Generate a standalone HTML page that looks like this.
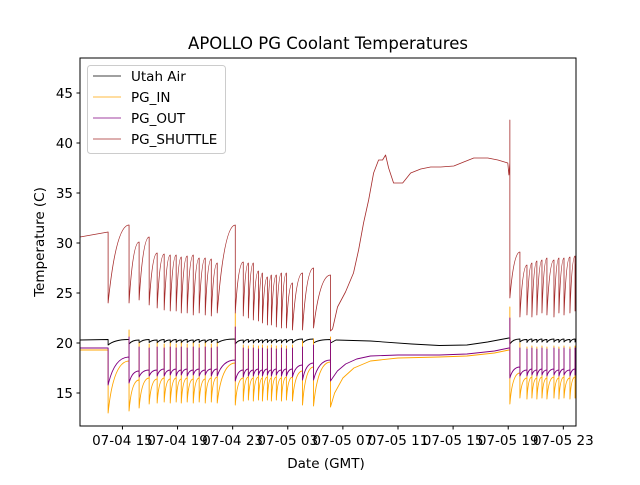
<!DOCTYPE html>
<html><head><meta charset="utf-8"><style>
body{margin:0;background:#fff}
svg text{font-family:"DejaVu Sans","Liberation Sans",sans-serif;fill:#000}
</style></head><body>
<svg id="chart" width="640" height="480" viewBox="0 0 640 480" xmlns="http://www.w3.org/2000/svg">
<rect width="640" height="480" fill="#fff"/>
<text x="328" y="49" font-size="16.5" text-anchor="middle">APOLLO PG Coolant Temperatures</text>
<g id="series"></g>
<rect x="80" y="58" width="496" height="368" fill="none" stroke="#000" stroke-width="1"/>
<g id="yticks"></g>
<g id="xticks"></g>
<text x="326" y="468" font-size="13.5" text-anchor="middle">Date (GMT)</text>
<text transform="translate(44,242) rotate(-90)" font-size="13.5" text-anchor="middle">Temperature (C)</text>
<g>
<rect x="87.5" y="65.5" width="138" height="88" rx="3" fill="#fff" fill-opacity="0.8" stroke="#ccc"/>
<g><line x1="93" y1="76" x2="121" y2="76" stroke="#000" stroke-width="0.7"/><text x="131" y="81" font-size="13.5">Utah Air</text></g>
<g><line x1="93" y1="97" x2="121" y2="97" stroke="#ffa500" stroke-width="0.7"/><text x="131" y="102" font-size="13.5">PG_IN</text></g>
<g><line x1="93" y1="118" x2="121" y2="118" stroke="#800080" stroke-width="0.7"/><text x="131" y="123" font-size="13.5">PG_OUT</text></g>
<g><line x1="93" y1="139" x2="121" y2="139" stroke="#a52a2a" stroke-width="0.7"/><text x="131" y="144" font-size="13.5">PG_SHUTTLE</text></g>
</g>
</svg>
<script>
// time in hours since 07-04 00:00 GMT
const xTickHours=[15,19,23,27,31,35,39,43,47];
const xTickLabels=["07-04 15","07-04 19","07-04 23","07-05 03","07-05 07","07-05 11","07-05 15","07-05 19","07-05 23"];
const yTickValues=[15,20,25,30,35,40,45];
const tStart=11.92, tEnd=47.92;
const cycleT=[13.96,15.48,16.21,16.94,17.52,18.03,18.47,18.90,19.27,19.70,20.14,20.57,21.01,21.45,21.88,23.19,23.77,24.14,24.50,24.87,25.16,25.52,25.81,26.17,26.54,26.90,27.34,28.07,28.87,30.10,43.12,43.85,44.36,44.72,45.08,45.45,45.81,46.32,46.68,47.05,47.48,47.85];
// PG_SHUTTLE
const shuttleStart=30.6, shuttleEnd=28.3;
const shuttlePre=[31.1,31.8,30.1,30.6,29.0,28.9,28.8,28.8,28.6,28.7,28.8,28.5,28.5,28.4,28.0,31.8,28.1,28.0,28.0,27.2,27.0,26.6,26.8,26.8,27.0,27.0,26.0,27.0,27.5,26.8,38.0,29.1,27.8,28.0,28.2,28.3,28.5,28.3,28.5,28.5,28.6,28.7];
const shuttleSpike=[31.1,31.8,30.1,30.6,29.0,28.9,28.8,28.8,28.6,28.7,28.8,28.5,28.5,28.4,28.0,31.8,28.1,28.0,28.0,27.2,27.0,26.6,26.8,26.8,27.0,27.0,26.0,27.0,27.5,26.8,42.3,29.1,27.8,28.0,28.2,28.3,28.5,28.3,28.5,28.5,28.6,28.7];
const shuttleLow=[24.0,24.0,24.3,23.8,23.5,23.3,23.2,23.2,23.0,23.0,22.8,23.0,22.8,22.7,23.0,23.0,22.7,22.5,22.3,22.2,22.0,21.8,21.8,21.6,21.5,21.5,21.3,21.3,21.5,21.2,24.5,22.6,22.8,22.6,22.8,23.0,22.8,22.6,23.0,22.8,23.0,23.2];
const shuttleBridgeT=[30.25,30.61,31.19,31.77,32.14,32.50,32.87,33.23,33.59,33.88,34.10,34.32,34.68,35.34,35.92,36.65,37.37,38.10,39.05,39.77,40.50,41.52,42.25,42.97,43.05];
const shuttleBridgeV=[21.4,23.6,25.1,27.0,29.3,32.0,34.3,37.0,38.3,38.3,38.8,37.5,36.0,36.0,37.0,37.4,37.6,37.6,37.7,38.1,38.5,38.5,38.3,38.0,36.8];
// PG_OUT
const outStart=19.5, outEnd=17.3;
const outPre=[19.5,18.6,17.2,17.3,17.3,17.4,17.3,17.4,17.3,17.4,17.3,17.4,17.3,17.4,17.4,18.3,17.3,17.4,17.3,17.4,17.3,17.4,17.3,17.4,17.3,17.4,17.4,17.8,18.0,18.3,19.5,17.6,17.3,17.4,17.3,17.4,17.3,17.4,17.3,17.4,17.3,17.4];
const outSpike=[19.5,20.6,19.6,19.5,19.6,19.5,19.6,19.5,19.6,19.5,19.6,19.5,19.6,19.5,19.6,21.6,19.5,19.4,19.5,19.4,19.5,19.4,19.5,19.4,19.5,19.4,19.5,19.6,19.8,20.3,22.5,19.5,19.4,19.5,19.4,19.5,19.4,19.5,19.4,19.5,19.4,19.5];
const outLow=[15.8,16.0,16.6,16.7,16.7,16.7,16.8,16.7,16.8,16.7,16.8,16.7,16.8,16.7,16.7,16.2,16.6,16.7,16.7,16.8,16.7,16.8,16.7,16.8,16.7,16.7,16.6,16.3,16.3,16.2,16.5,16.7,16.7,16.8,16.7,16.8,16.7,16.8,16.7,16.8,16.7,16.8];
const outBridgeT=[30.6,31.2,32.0,33.0,35.0,38.0,40.0,42.0,43.05];
const outBridgeV=[17.2,17.9,18.4,18.7,18.8,18.8,18.9,19.2,19.5];
// PG_IN
const inStart=19.3, inEnd=16.3;
const inPre=[19.3,18.2,16.3,16.5,16.4,16.5,16.4,16.5,16.4,16.5,16.4,16.5,16.4,16.5,16.6,18.0,16.5,16.6,16.5,16.6,16.5,16.6,16.5,16.6,16.5,16.6,16.6,17.2,17.6,18.1,19.3,17.0,16.5,16.6,16.5,16.6,16.5,16.6,16.5,16.6,16.5,16.6];
const inSpike=[19.3,21.3,20.0,19.9,20.0,19.9,20.0,19.9,20.0,19.9,20.0,19.9,20.0,19.9,20.0,23.0,19.8,19.7,19.8,19.7,19.8,19.7,19.8,19.7,19.8,19.7,19.8,20.2,20.4,20.6,23.6,20.0,19.6,19.7,19.6,19.7,19.6,19.7,19.6,19.7,19.6,19.7];
const inLow=[13.0,13.2,13.5,13.9,14.0,14.1,14.0,14.1,14.0,14.1,14.0,14.1,14.0,14.1,14.0,13.8,14.2,14.3,14.2,14.3,14.2,14.3,14.2,14.3,14.2,14.3,14.2,13.8,13.7,13.6,13.9,14.5,14.4,14.5,14.4,14.5,14.4,14.5,14.4,14.5,14.4,14.5];
const inBridgeT=[30.4,31.0,31.8,33.0,35.0,38.0,40.0,42.0,43.05];
const inBridgeV=[15.0,16.5,17.5,18.2,18.5,18.6,18.7,19.0,19.3];
// Utah Air
const airStart=20.3, airEnd=20.35;
const airPre=[20.35,20.35,20.3,20.35,20.3,20.35,20.3,20.35,20.3,20.35,20.3,20.35,20.3,20.35,20.35,20.4,20.3,20.35,20.3,20.35,20.3,20.35,20.3,20.35,20.3,20.35,20.35,20.4,20.4,20.35,20.5,20.4,20.35,20.4,20.35,20.4,20.35,20.4,20.35,20.4,20.35,20.4];
const airLow=[19.8,19.9,20.0,20.05,20.0,20.05,20.0,20.05,20.0,20.05,20.0,20.05,20.0,20.05,20.0,19.9,20.0,20.05,20.0,20.05,20.0,20.05,20.0,20.05,20.0,20.05,20.0,20.0,20.0,20.0,19.9,20.1,20.05,20.1,20.05,20.1,20.05,20.1,20.05,20.1,20.05,20.1];
const airBridgeT=[30.5,33.0,36.0,38.0,40.0,41.5,43.05];
const airBridgeV=[20.3,20.2,19.9,19.75,19.8,20.1,20.5];

const X0=80,X1=576,Y0=58,Y1=426;
function xs(t){return X0+(t-tStart)/(tEnd-tStart)*(X1-X0);}
function ys(v){return 343-(v-20)*10;}
const NS="http://www.w3.org/2000/svg";
const svg=document.getElementById('chart');

function buildPath(startV,endV,pre,spike,low,bT,bV,bridgeAfter,bend){
  let d="M"+xs(tStart).toFixed(2)+","+ys(startV).toFixed(2);
  let prevT=tStart, curved=false;
  for(let i=0;i<cycleT.length;i++){
    const t=cycleT[i];
    if(curved){
      const dt=t-prevT;
      d+=" Q"+xs(prevT+bend*dt).toFixed(2)+","+ys(pre[i]).toFixed(2)+" "+xs(t).toFixed(2)+","+ys(pre[i]).toFixed(2);
    } else {
      d+=" L"+xs(t).toFixed(2)+","+ys(pre[i]).toFixed(2);
    }
    d+=" L"+xs(t).toFixed(2)+","+ys(spike[i]).toFixed(2);
    d+=" L"+xs(t).toFixed(2)+","+ys(low[i]).toFixed(2);
    prevT=t; curved=true;
    if(i===bridgeAfter){
      for(let k=0;k<bT.length;k++){d+=" L"+xs(bT[k]).toFixed(2)+","+ys(bV[k]).toFixed(2);}
      curved=false;
    }
  }
  const dt=tEnd-prevT;
  d+=" Q"+xs(prevT+bend*dt).toFixed(2)+","+ys(endV).toFixed(2)+" "+xs(tEnd).toFixed(2)+","+ys(endV).toFixed(2);
  return d;
}
const g=document.getElementById('series');
const cp=document.createElementNS(NS,'clipPath');cp.setAttribute('id','clip');
const cr=document.createElementNS(NS,'rect');cr.setAttribute('x',X0);cr.setAttribute('y',Y0);cr.setAttribute('width',X1-X0);cr.setAttribute('height',Y1-Y0);
cp.appendChild(cr);svg.insertBefore(cp,svg.firstChild);
g.setAttribute('clip-path','url(#clip)');
function addLine(name,d,color,w){
  const p=document.createElementNS(NS,'path');
  p.setAttribute('d',d);p.setAttribute('fill','none');p.setAttribute('stroke',color);
  p.setAttribute('stroke-width',w);p.setAttribute('stroke-linejoin','round');
  
  
  g.appendChild(p);
}
addLine('utah-air-line',buildPath(airStart,airEnd,airPre,airPre,airLow,airBridgeT,airBridgeV,29,0.3),'#000',0.9);
addLine('pg-in-line',buildPath(inStart,inEnd,inPre,inSpike,inLow,inBridgeT,inBridgeV,29,0.25),'#ffa500',0.9);
addLine('pg-out-line',buildPath(outStart,outEnd,outPre,outSpike,outLow,outBridgeT,outBridgeV,29,0.3),'#800080',0.9);
addLine('pg-shuttle-line',buildPath(shuttleStart,shuttleEnd,shuttlePre,shuttleSpike,shuttleLow,shuttleBridgeT,shuttleBridgeV,29,0.38),'#a52a2a',0.8);

const yt=document.getElementById('yticks');
yTickValues.forEach(v=>{
  const y=ys(v);
  const l=document.createElementNS(NS,'line');
  l.setAttribute('x1',X0-3.5);l.setAttribute('x2',X0);l.setAttribute('y1',y);l.setAttribute('y2',y);l.setAttribute('stroke','#000');
  
  
  yt.appendChild(l);
  const tx=document.createElementNS(NS,'text');
  tx.setAttribute('x',X0-7);tx.setAttribute('y',y+5);tx.setAttribute('font-size','13.5');tx.setAttribute('text-anchor','end');
  tx.textContent=String(v);
  
  
  yt.appendChild(tx);
});
const xt=document.getElementById('xticks');
xTickHours.forEach((h,i)=>{
  const x=xs(h);
  const l=document.createElementNS(NS,'line');
  l.setAttribute('x1',x);l.setAttribute('x2',x);l.setAttribute('y1',Y1);l.setAttribute('y2',Y1+3.5);l.setAttribute('stroke','#000');
  
  
  xt.appendChild(l);
  const tx=document.createElementNS(NS,'text');
  tx.setAttribute('x',x);tx.setAttribute('y',Y1+19);tx.setAttribute('font-size','13.5');tx.setAttribute('text-anchor','middle');
  tx.textContent=xTickLabels[i];
  
  
  xt.appendChild(tx);
});
</script>
</body></html>
